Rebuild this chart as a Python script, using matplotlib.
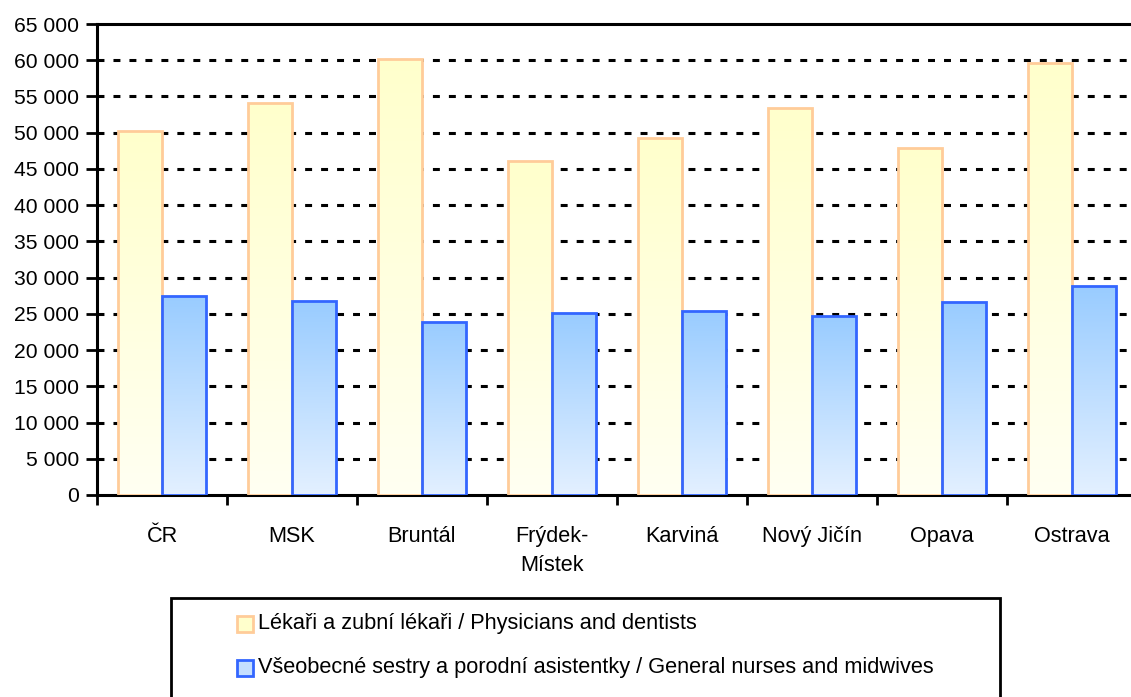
import numpy as np
import matplotlib
matplotlib.use("Agg")
import matplotlib.pyplot as plt
from matplotlib.patches import Rectangle

plt.rcParams['font.family'] = ['Liberation Sans', 'DejaVu Sans']
plt.rcParams['lines.scale_dashes'] = False

# Data
regions = ["ČR", "MSK", "Bruntál", "Frýdek-\nMístek", "Karviná", "Nový Jičín", "Opava", "Ostrava"]
physicians = [50200, 54100, 60200, 46100, 49200, 53400, 47900, 59600]
nurses = [27500, 26800, 23900, 25100, 25400, 24700, 26600, 28800]
labels = ["Lékaři a zubní lékaři / Physicians and dentists",
          "Všeobecné sestry a porodní asistentky / General nurses and midwives"]
yticks = np.arange(0, 65001, 5000)

W, H = 1131, 697
fig = plt.figure(figsize=(W / 100, H / 100), dpi=100)
ax = fig.add_axes([97 / W, 1 - 495 / H, 1040 / W, 471 / H])

bw = 0.338
x = np.arange(len(regions)) + 0.5

styles = [
    (physicians, x - bw / 2, "#FFCC99", ["#FFFFCC", "#FFFFF2"]),
    (nurses, x + bw / 2, "#3366FF", ["#99CCFF", "#E3F0FF"]),
]

for vals, xs, edge, (ctop, cbot) in styles:
    bars = ax.bar(xs, vals, width=bw, facecolor="none", edgecolor=edge, linewidth=2, zorder=4)
    c1 = np.array(matplotlib.colors.to_rgb(ctop))
    c2 = np.array(matplotlib.colors.to_rgb(cbot))
    for b in bars:
        x0, y0 = b.get_x(), b.get_y()
        w, h = b.get_width(), b.get_height()
        t = np.linspace(0, 1, 100)[:, None]
        grad = (c1 * (1 - t) + c2 * t)[:, None, :]
        im = ax.imshow(grad, extent=[x0, x0 + w, y0, y0 + h], origin="upper",
                       aspect="auto", zorder=3)
        im.set_clip_path(b)

ax.set_xlim(0, len(regions))
ax.set_ylim(0, 65000)

ax.set_yticks(yticks)
ax.set_yticklabels([f"{v:,}".replace(",", " ") for v in yticks], fontsize=15.2)
ax.set_xticks(np.arange(len(regions) + 1))
ax.set_xticklabels([])
ax.set_xticks(x, minor=True)
ax.set_xticklabels(regions, minor=True, fontsize=15.6, linespacing=1.55)
ax.tick_params(axis="x", which="major", direction="out", length=7, width=2, color="black")
ax.tick_params(axis="x", which="minor", length=0, pad=22)
ax.tick_params(axis="y", direction="out", length=8, width=2, pad=5)

for v in yticks[1:-1]:
    ax.axhline(v, color="black", linewidth=2.2, linestyle=(0, (5, 6.5)), zorder=1)

for s in ["left", "bottom", "top"]:
    ax.spines[s].set_linewidth(2.2)
    ax.spines[s].set_color("black")
ax.spines["right"].set_visible(False)

# Legend box
fig.patches.append(Rectangle((171 / W, -0.05), (1000 - 171) / W, 1.05 - 598 / H,
                             transform=fig.transFigure, fill=False, edgecolor="black", linewidth=2))
for i, (lab, edge, fc) in enumerate(zip(labels, ["#FFCC99", "#3366FF"], ["#FFFFCC", "#C5DFFF"])):
    yc = 624 + i * 44
    fig.patches.append(Rectangle((237 / W, 1 - (yc + 8) / H), 16 / W, 16 / H,
                                 transform=fig.transFigure, facecolor=fc, edgecolor=edge, linewidth=2))
    fig.text(258 / W, 1 - yc / H, lab, fontsize=15.7, va="center", ha="left")

fig.savefig("out.png", dpi=100)
